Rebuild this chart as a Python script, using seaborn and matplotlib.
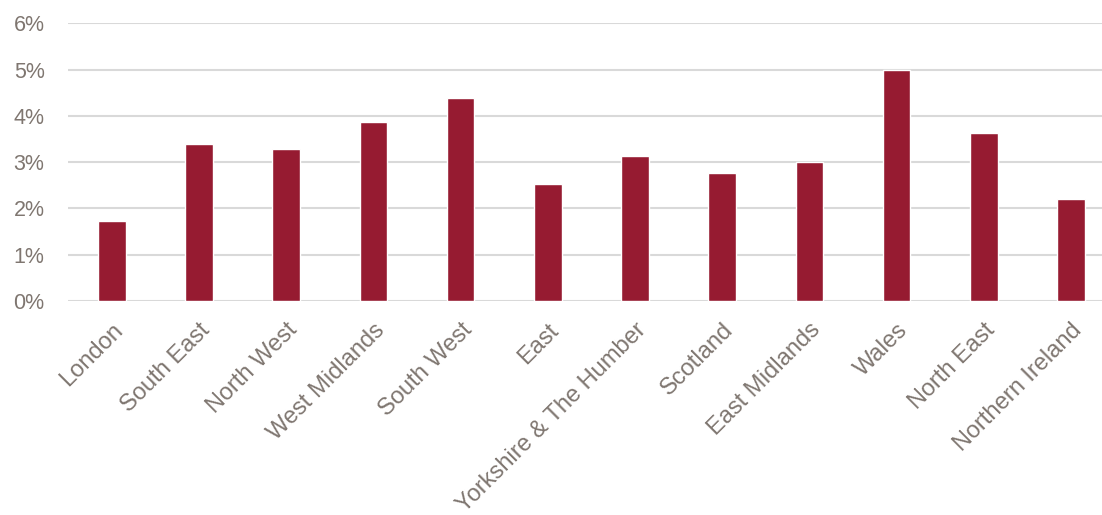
import matplotlib
matplotlib.use("Agg")
import matplotlib.pyplot as plt
import seaborn as sns
import pandas as pd
from matplotlib.ticker import FuncFormatter

# 地域と値（%）
regions = ["London", "South East", "North West", "West Midlands", "South West", "East",
           "Yorkshire & The Humber", "Scotland", "East Midlands", "Wales", "North East",
           "Northern Ireland"]
values = [1.74, 3.39, 3.28, 3.86, 4.39, 2.54, 3.13, 2.77, 3.00, 5.00, 3.64, 2.20]

bar_color = "#961B31"
text_color = "#7F7670"
grid_color = "#D9D9D9"

sns.set_style("white")
plt.rcParams['font.family'] = ['Liberation Sans', 'DejaVu Sans']

df = pd.DataFrame({"region": regions, "value": values})

fig = plt.figure(figsize=(11.02, 5.15), dpi=100)
# 右端は図の外まで伸ばす（元画像は右側が切れている）
ax = fig.add_axes([0.0619, 0.4155, 0.9495, 0.539])

sns.barplot(data=df, x="region", y="value", color=bar_color, width=0.315,
            saturation=1, ax=ax, zorder=3)

ax.set_ylim(0, 6)
ax.set_yticks(range(0, 7))
ax.yaxis.set_major_formatter(FuncFormatter(lambda v, p: f"{int(v)}%"))
ax.yaxis.grid(True, color=grid_color, linewidth=1.5, zorder=0)
ax.set_xlim(-0.5, len(regions) - 0.5)

for s in ax.spines.values():
    s.set_visible(False)

ax.set_xlabel("")
ax.set_ylabel("")
ax.tick_params(axis="both", length=0, colors=text_color)
ax.tick_params(axis="y", pad=17, labelsize=15.5)
ax.tick_params(axis="x", pad=13, labelsize=17)
plt.setp(ax.get_xticklabels(), rotation=45, ha="right", rotation_mode="anchor")

fig.savefig("out.png", dpi=100)
